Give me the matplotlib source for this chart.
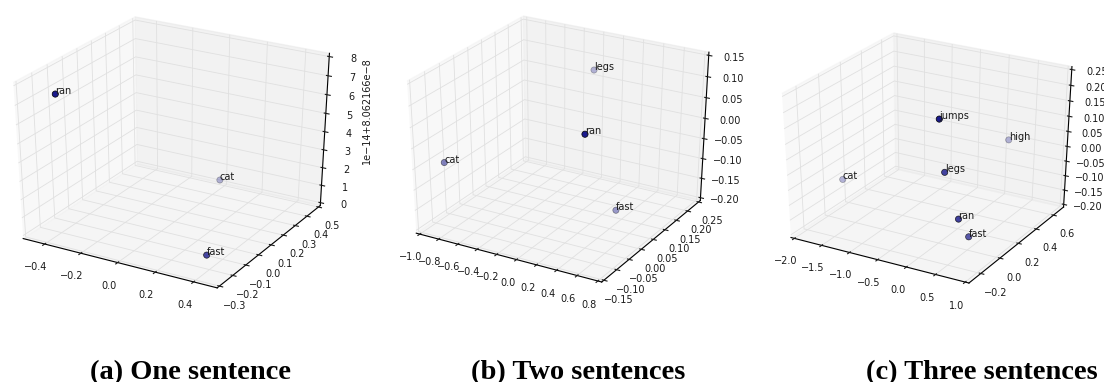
import types
import matplotlib
matplotlib.use("Agg")
import matplotlib.pyplot as plt
from mpl_toolkits.mplot3d import Axes3D  # noqa: F401

plt.rcParams['font.family'] = ['DejaVu Sans']

# (a) one sentence -- z is stored in units of 1e-14 above 8.062166e-8
words_a = ["ran", "cat", "fast"]
x_a = [-0.45, 0.135, 0.33]
y_a = [-0.14, 0.26, -0.12]
z_a = [6.95, 1.70, 0.0]
z_a_offset_label = "1e\u221214+8.062166e\u22128"

# (b) two sentences
words_b = ["legs", "ran", "cat", "fast"]
x_b = [-0.212, 0.614, -0.826, 0.479]
y_b = [0.225, -0.139, -0.118, 0.042]
z_b = [0.0775, 0.116, -0.038, -0.152]

# (c) three sentences
words_c = ["jumps", "high", "legs", "cat", "ran", "fast"]
x_c = [0.176, 0.302, 0.270, -1.704, 0.675, 0.767]
y_c = [-0.10, 0.55, -0.10, 0.00, -0.20, -0.15]
z_c = [0.223, 0.027, 0.061, -0.070, -0.048, -0.114]

captions = ["(a) One sentence", "(b) Two sentences", "(c) Three sentences"]

ticks_a = ([-0.4, -0.2, 0.0, 0.2, 0.4],
           [-0.3, -0.2, -0.1, 0.0, 0.1, 0.2, 0.3, 0.4, 0.5],
           [0, 1, 2, 3, 4, 5, 6, 7, 8])
ticks_b = ([-1.0, -0.8, -0.6, -0.4, -0.2, 0.0, 0.2, 0.4, 0.6, 0.8],
           [-0.15, -0.10, -0.05, 0.0, 0.05, 0.10, 0.15, 0.20, 0.25],
           [-0.20, -0.15, -0.10, -0.05, 0.0, 0.05, 0.10, 0.15])
ticks_c = ([-2.0, -1.5, -1.0, -0.5, 0.0, 0.5, 1.0],
           [-0.2, 0.0, 0.2, 0.4, 0.6],
           [-0.20, -0.15, -0.10, -0.05, 0.0, 0.05, 0.10, 0.15, 0.20, 0.25])

lims_a = ((-0.5, 0.5), (-0.3, 0.5), (0, 8))
lims_b = ((-1.0, 0.8), (-0.15, 0.25), (-0.2, 0.15))
lims_c = ((-2.0, 1.0), (-0.3, 0.7), (-0.2, 0.25))

W, H = 1104, 382
fig = plt.figure(figsize=(W / 100, H / 100), dpi=100)

POINT_COLOR = (0.10, 0.10, 0.55)
TEXT_COLOR = '#1a1a1a'


def _free_aspect(self, position=None):
    # let the 3D panel fill its rectangle (non-square stretch allowed)
    if position is None:
        position = self.get_position(original=True)
    self._set_position(position, which='active')


def padded(lo, hi):
    m = (hi - lo) / 48.0
    return lo - m, hi + m


def panel(rect_px, zr, zpad, xs, ys, zs, words, ticks, lims):
    l, b, w, h = rect_px
    ax = fig.add_axes([l / W, b / H, w / W, h / H], projection='3d')
    ax.apply_aspect = types.MethodType(_free_aspect, ax)
    ax.set_box_aspect((1, 1, zr), zoom=0.6244 * (2 + zr ** 2) ** 0.5)
    ax.set_xlim(*padded(*lims[0]))
    ax.set_ylim(*padded(*lims[1]))
    ax.set_zlim(*padded(*lims[2]))
    ax.set_xticks(ticks[0])
    ax.set_yticks(ticks[1])
    ax.set_zticks(ticks[2])
    ax.scatter(xs, ys, zs, s=20, color=POINT_COLOR, edgecolors='k',
               linewidths=0.5, depthshade=True)
    for x, y, z, t in zip(xs, ys, zs, words):
        ax.text(x, y, z, t, fontsize=7, color=TEXT_COLOR)
    for axis, pad in ((ax.xaxis, 0.8), (ax.yaxis, 0.5), (ax.zaxis, zpad)):
        axis.set_tick_params(labelsize=7, colors=TEXT_COLOR, pad=pad)
        axis._axinfo['grid']['color'] = (0.88, 0.88, 0.88, 1)
        axis._axinfo['grid']['linewidth'] = 0.6
        axis._axinfo['axisline']['color'] = (0.25, 0.25, 0.25, 1)
        axis._axinfo['axisline']['linewidth'] = 0.8
    ax.view_init(elev=30, azim=-60)
    return ax


panel((-4.5, 98.7, 348.5, 265.3), 1.042, 1.3, x_a, y_a, z_a, words_a, ticks_a, lims_a)
panel((389.9, 103.3, 333.0, 262.8), 1.025, 2.0, x_b, y_b, z_b, words_b, ticks_b, lims_b)
panel((765.6, 103.2, 319.7, 244.8), 1.042, 1.6, x_c, y_c, z_c, words_c, ticks_c, lims_c)

fig.text(367 / W, 1 - 111 / H, z_a_offset_label, rotation=90, fontsize=7,
         ha='center', va='center', color=TEXT_COLOR)

for cx, cap in zip([191, 578, 982], captions):
    fig.text(cx / W, 1 - 379 / H, cap, ha='center', va='baseline',
             fontsize=20.5, fontweight='bold', family='Liberation Serif')

fig.savefig("out.png", dpi=100)
